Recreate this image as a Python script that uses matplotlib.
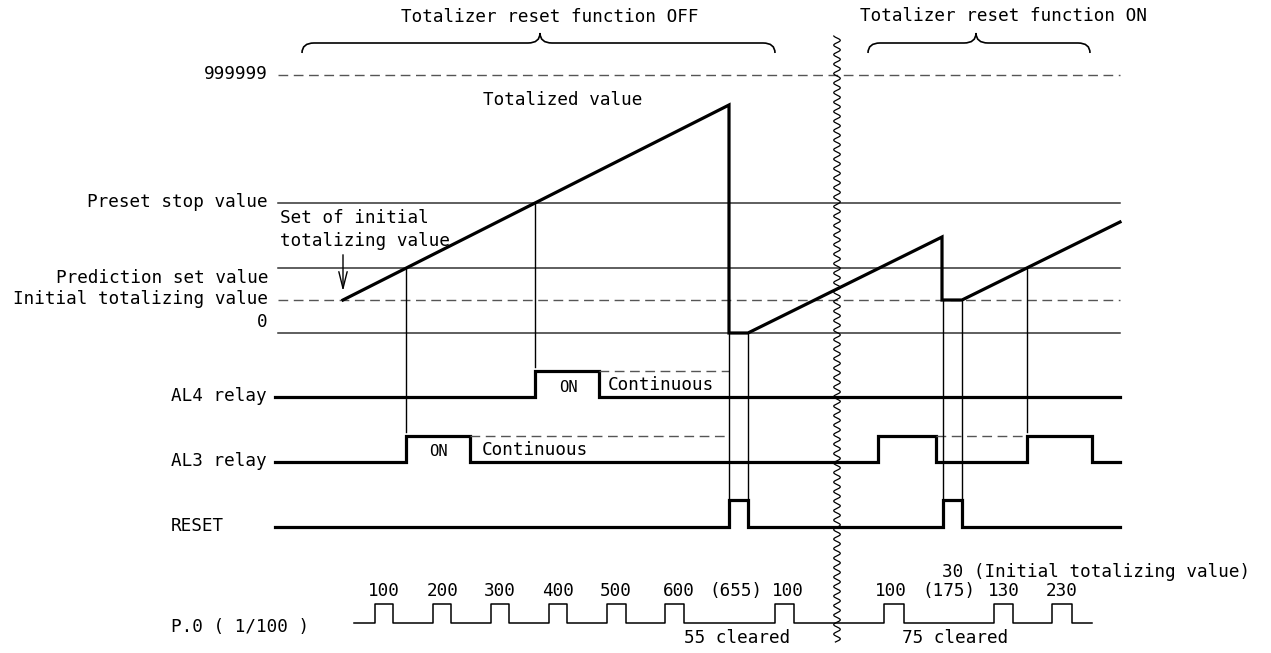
import numpy as np
import matplotlib
matplotlib.use("Agg")
import matplotlib.pyplot as plt
from matplotlib.path import Path
from matplotlib.patches import PathPatch

plt.rcParams['font.family'] = ['DejaVu Sans Mono']
FS = 12.7

# levels of the totalized value (chart rows, top = 0)
lvl_max, lvl_stop, lvl_pred, lvl_init, lvl_zero = 75, 203, 268, 300, 333
level_names = ["999999", "Preset stop value", "Prediction set value",
               "Initial totalizing value", "0"]
level_label_y = [74, 202, 278, 299, 322]

# totalized value trace
tot_t = [343, 729, 729, 748, 942, 942, 962, 1120]
tot_v = [300, 105, 333, 333, 237, 300, 300, 222]

# relay / reset signals: (low, high) rows and ON intervals
sig_names = ["AL4 relay", "AL3 relay", "RESET"]
sig_low = [397, 462, 527]
sig_high = [371, 436, 500]
sig_on = [[(535, 599)],
          [(406, 470), (878, 936), (1027, 1092)],
          [(729, 748), (943, 962)]]

# "continuous" dashed levels: (row, start, end)
cont_dash = [(371, 599, 729), (436, 470, 729), (436, 936, 1027)]

# thin vertical links: (t, top, bottom)
links = [(406, 268, 432), (535, 203, 367), (729, 333, 500), (748, 333, 527),
         (943, 300, 500), (962, 300, 527), (1027, 268, 432)]

# P.0 pulses
p0_low, p0_high = 623, 604
p0_on = [(375, 393), (433, 451), (491, 509), (549, 567), (607, 626),
         (665, 684), (775, 794), (884, 904), (994, 1013), (1052, 1072)]
p0_labels = ["100", "200", "300", "400", "500", "600", "(655)", "100",
             "100", "(175)", "130", "230"]
p0_label_x = [384, 443, 500, 558, 616, 679, 736, 788, 891, 949, 1004, 1062]

x_left, x_right, x_break = 278, 1120, 837

fig = plt.figure(figsize=(12.71, 6.53), dpi=100)
ax = fig.add_axes([0, 0, 1, 1])
ax.set_xlim(0, 1271)
ax.set_ylim(653, 0)
ax.axis('off')

thin = dict(color='#333333', lw=1.1)
thick = dict(color='black', lw=2.3, solid_joinstyle='miter')
dash = dict(color='#555555', lw=1.0, dashes=(7, 4))

# level lines
ax.plot([x_left, x_right], [lvl_max] * 2, **dash)
ax.plot([x_left, x_right], [lvl_init] * 2, **dash)
for lv in [lvl_stop, lvl_pred, lvl_zero]:
    ax.plot([x_left, x_right], [lv] * 2, **thin)
for name, y in zip(level_names, level_label_y):
    ax.text(268, y, name, ha='right', va='center', fontsize=FS)

ax.plot(tot_t, tot_v, **thick)

# signals
for name, lo, hi, ons in zip(sig_names, sig_low, sig_high, sig_on):
    xs, ys = [275], [lo]
    for a, b in ons:
        xs += [a, a, b, b]
        ys += [lo, hi, hi, lo]
    xs.append(x_right)
    ys.append(lo)
    ax.plot(xs, ys, **thick)
    ax.text(171, lo - 1, name, ha='left', va='center', fontsize=FS)

for y, a, b in cont_dash:
    ax.plot([a, b], [y, y], **dash)
for t, a, b in links:
    ax.plot([t, t], [a, b], color='black', lw=1.0)

# P.0 pulse train
xs, ys = [354], [p0_low]
for a, b in p0_on:
    xs += [a, a, b, b]
    ys += [p0_low, p0_high, p0_high, p0_low]
xs.append(1092)
ys.append(p0_low)
ax.plot(xs, ys, color='black', lw=1.1)
for s, x in zip(p0_labels, p0_label_x):
    ax.text(x, 591, s, ha='center', va='center', fontsize=FS)
ax.text(171, 627, "P.0 ( 1/100 )", ha='left', va='center', fontsize=FS)
ax.text(737, 638, "55 cleared", ha='center', va='center', fontsize=FS)
ax.text(955, 638, "75 cleared", ha='center', va='center', fontsize=FS)
ax.text(942, 572, "30 (Initial totalizing value)", ha='left', va='center', fontsize=FS)

# annotations
ax.text(280, 218, "Set of initial", ha='left', va='center', fontsize=FS)
ax.text(280, 241, "totalizing value", ha='left', va='center', fontsize=FS)
ax.annotate("", xy=(343, 294), xytext=(343, 252),
            arrowprops=dict(arrowstyle='->,head_length=1.2,head_width=0.3', lw=1.0, color='black'))
ax.text(563, 100, "Totalized value", ha='center', va='center', fontsize=FS)
ax.text(439, 451, "ON", ha='center', va='center', fontsize=FS - 1.5)
ax.text(482, 450, "Continuous", ha='left', va='center', fontsize=FS)
ax.text(569, 387, "ON", ha='center', va='center', fontsize=FS - 1.5)
ax.text(608, 385, "Continuous", ha='left', va='center', fontsize=FS)

ax.text(550, 17, "Totalizer reset function OFF", ha='center', va='center', fontsize=FS)
ax.text(1003, 16, "Totalizer reset function ON", ha='center', va='center', fontsize=FS)


def brace(x0, xc, x1, y=43, r=12):
    verts = [(x0, y + 10), (x0, y), (x0 + r, y),
             (xc - r, y), (xc, y), (xc, y - 10),
             (xc, y), (xc + r, y),
             (x1 - r, y), (x1, y), (x1, y + 10)]
    codes = [Path.MOVETO, Path.CURVE3, Path.CURVE3,
             Path.LINETO, Path.CURVE3, Path.CURVE3,
             Path.CURVE3, Path.CURVE3,
             Path.LINETO, Path.CURVE3, Path.CURVE3]
    ax.add_patch(PathPatch(Path(verts, codes), fill=False, lw=1.2, color='black'))


brace(302, 540, 775)
brace(868, 976, 1090)

# break mark
yy = np.linspace(36, 642, 900)
ax.plot(x_break + 3.3 * np.sin(2 * np.pi * yy / 9.5), yy, color='black', lw=0.9)

fig.savefig("out.png", dpi=100)
